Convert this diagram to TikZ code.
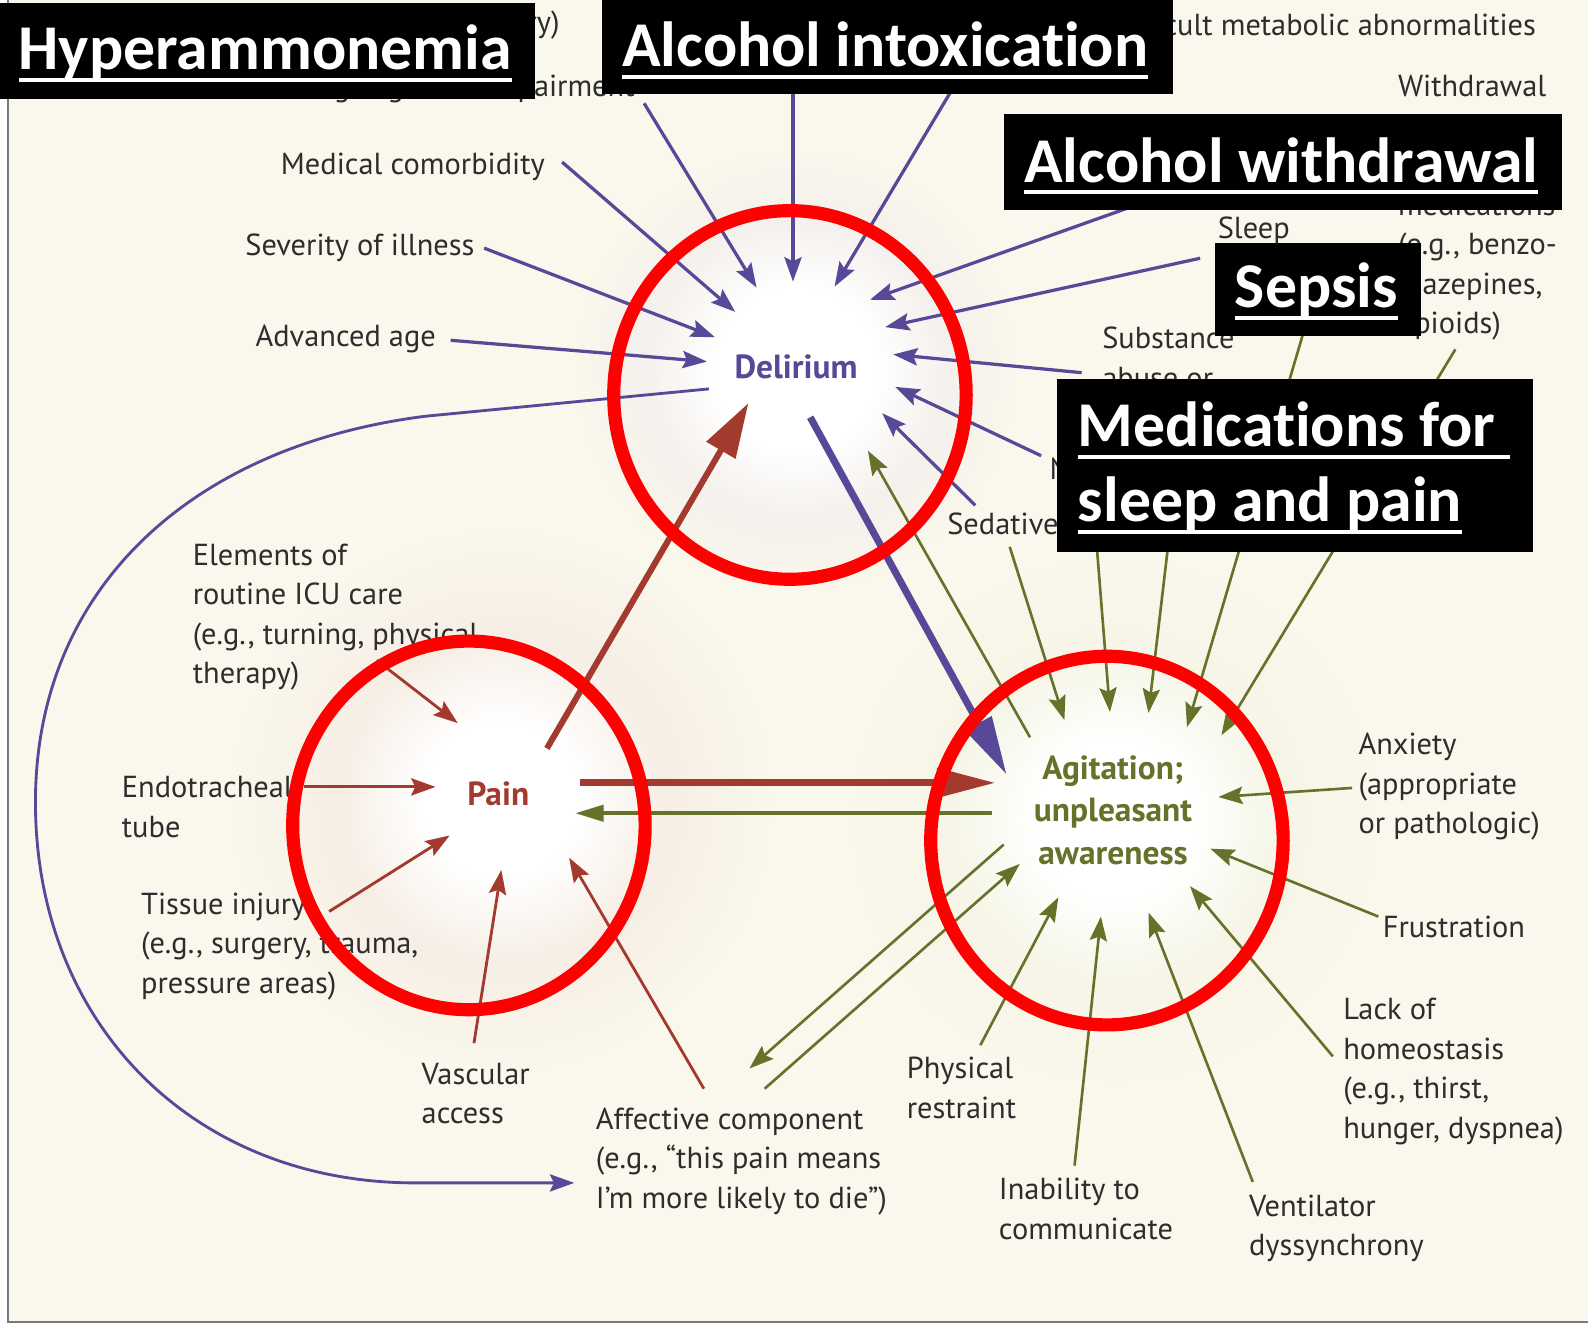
\documentclass[tikz,border=0pt]{standalone}
\usepackage{fontspec}
\setmainfont{PT Sans}
\newfontfamily\boxfont{Carlito}[Ligatures=NoCommon]
\usetikzlibrary{arrows.meta}

\definecolor{bgcream}{RGB}{250,247,236}
\definecolor{framegray}{RGB}{120,120,128}
\definecolor{dpurple}{RGB}{88,72,152}
\definecolor{pbrown}{RGB}{163,58,46}
\definecolor{aolive}{RGB}{102,114,42}
\definecolor{labelgray}{RGB}{45,45,45}
\definecolor{markred}{RGB}{255,0,0}
\definecolor{paintint}{RGB}{246,238,229}
\definecolor{agitint}{RGB}{246,245,231}
\definecolor{deltint}{RGB}{244,240,236}

% soft glows: white core, faint tint, fading into the page colour at the rim
\pgfdeclareradialshading{delglow}{\pgfpoint{0bp}{0bp}}{color(0bp)=(white); color(9bp)=(white); color(17bp)=(deltint); color(25bp)=(bgcream); color(50bp)=(bgcream)}
\pgfdeclareradialshading{painglow}{\pgfpoint{0bp}{0bp}}{color(0bp)=(white); color(7bp)=(white); color(15bp)=(paintint); color(25bp)=(bgcream); color(50bp)=(bgcream)}
\pgfdeclareradialshading{agiglow}{\pgfpoint{0bp}{0bp}}{color(0bp)=(white); color(7bp)=(white); color(15bp)=(agitint); color(25bp)=(bgcream); color(50bp)=(bgcream)}

% white bar under a line of overlay text
\newcommand\ulbar[1]{\setbox0=\hbox{#1}\rlap{\rule[-6pt]{\wd0}{2pt}}\box0}

\begin{document}
\begin{tikzpicture}[x=0.5pt,y=-0.5pt,
  lbl/.style={font=\fontsize{15}{19.5}\selectfont, text=labelgray, inner sep=0pt, align=left, anchor=west, yshift=-1.5pt},
  hub/.style={font=\bfseries\fontsize{16.5}{21}\selectfont, inner sep=0pt, align=center},
  thinhead/.style={-{Stealth[length=12pt,width=8.5pt,inset=2pt]}},
  parr/.style={dpurple, line width=1.6pt, thinhead},
  rarr/.style={pbrown, line width=1.4pt, thinhead},
  garr/.style={aolive, line width=1.3pt, thinhead},
  ring/.style={draw=markred, line width=6.5pt},
  ovl/.style={text=white, font=\boxfont\bfseries\fontsize{31.5}{37}\selectfont, inner sep=0pt, anchor=base west}]

\useasboundingbox (0,0) rectangle (1568,1309);
\fill[white] (0,0) rectangle (1568,1309);
\fill[bgcream] (8,0) rectangle (1568,1305);
\draw[framegray, line width=1pt] (8,0) -- (8,1305) -- (1568,1305);

% glows behind the three hubs
\shade[shading=delglow] (786,365) circle (110pt);
\shade[shading=painglow] (495,790) circle (135pt);
\shade[shading=agiglow] (1100,810) circle (135pt);

% hubs
\node[hub, text=dpurple] (del) at (786,362) {Delirium};
\node[hub, text=pbrown] (pain) at (492,784) {Pain};
\node[hub, text=aolive] (agi) at (1099,800) {Agitation;\\unpleasant\\awareness};

% factor labels
\node[lbl, anchor=east] (brain) at (553,22) {Brain injury (e.g., stroke, head injury)};
\node[lbl, anchor=east] (cog) at (627,85) {Preexisting cognitive impairment};
\node[lbl] (medcom) at (277,162) {Medical comorbidity};
\node[lbl] (sev) at (242,242) {Severity of illness};
\node[lbl] (age) at (252,332) {Advanced age};
\node[lbl, anchor=east] (occ) at (1517,22) {Occult metabolic abnormalities};
\node[lbl] (wd) at (1380,202) {Withdrawal\\from alcohol\\\strut\\medications\\(e.g., benzo-\\diazepines,\\opioids)};
\node[lbl] (sleep) at (1202,225) {Sleep};
\node[lbl] (subst) at (1088,350.5) {Substance\\abuse or};
\node[lbl] (narc) at (1036,460) {Narcotics};
\node[lbl] (sed) at (935,514) {Sedatives};

\node[lbl] (icu) at (190,606.5) {Elements of\\routine ICU care\\(e.g., turning, physical\\therapy)};
\node[lbl] (ett) at (120,794) {Endotracheal\\tube};
\node[lbl] (tissue) at (139,931.5) {Tissue injury\\(e.g., surgery, trauma,\\pressure areas)};
\node[lbl] (vasc) at (416,1077) {Vascular\\access};
\node[lbl] (aff) at (588,1143.5) {Affective component\\(e.g., “this pain means\\I’m more likely to die”)};
\node[lbl] (restr) at (895,1071) {Physical\\restraint};
\node[lbl] (comm) at (986,1190.5) {Inability to\\communicate};
\node[lbl] (vent) at (1233,1210) {Ventilator\\dyssynchrony};
\node[lbl] (homeo) at (1326,1055) {Lack of\\homeostasis\\(e.g., thirst,\\hunger, dyspnea)};
\node[lbl] (frus) at (1365,912) {Frustration};
\node[lbl] (anx) at (1341,774) {Anxiety\\(appropriate\\or pathologic)};

% connector end points: delirium factors
\coordinate (pa1s) at (636,102);   \coordinate (pa1t) at (747,284);
\coordinate (pa2s) at (783,60);    \coordinate (pa2t) at (783,278);
\coordinate (pa3s) at (960,55);    \coordinate (pa3t) at (824,283);
\coordinate (pa4s) at (555,160);   \coordinate (pa4t) at (726,308);
\coordinate (pa5s) at (478,245);   \coordinate (pa5t) at (706,333);
\coordinate (pa6s) at (445,336);   \coordinate (pa6t) at (698,357);
\coordinate (pa7s) at (1140,196);  \coordinate (pa7t) at (859,296);
\coordinate (pa8s) at (1185,255);  \coordinate (pa8t) at (874,323);
\coordinate (pa9s) at (1068,368);  \coordinate (pa9t) at (882,350);
\coordinate (pa10s) at (1028,450); \coordinate (pa10t) at (884,382);
\coordinate (pa11s) at (963,499);  \coordinate (pa11t) at (871,408);
\coordinate (loops) at (700,384);  \coordinate (loopt) at (567,1168);
% hub to hub
\coordinate (dagS) at (800,412);   \coordinate (dagT) at (994,765);
\coordinate (pdS) at (540,739);    \coordinate (pdT) at (739,398);
\coordinate (paS) at (573,773);    \coordinate (paT) at (983,773);
\coordinate (apS) at (979,803);    \coordinate (apT) at (568,803);
\coordinate (adS) at (1017,728);   \coordinate (adT) at (857,445);
% pain factors
\coordinate (ra1s) at (372,652);   \coordinate (ra1t) at (452,714);
\coordinate (ra2s) at (300,777);   \coordinate (ra2t) at (430,777);
\coordinate (ra3s) at (325,900);   \coordinate (ra3t) at (444,825);
\coordinate (ra4s) at (468,1030);  \coordinate (ra4t) at (495,859);
\coordinate (ra5s) at (695,1075);  \coordinate (ra5t) at (562,847);
% agitation factors
\coordinate (gaffS) at (991,834);  \coordinate (gaffT) at (740,1055);
\coordinate (gagiS) at (755,1075); \coordinate (gagiT) at (1007,853);
\coordinate (g1s) at (968,1032);   \coordinate (g1t) at (1045,886);
\coordinate (g2s) at (1061,1151);  \coordinate (g2t) at (1087,905);
\coordinate (g3s) at (1237,1167);  \coordinate (g3t) at (1134,901);
\coordinate (g4s) at (1316,1043);  \coordinate (g4t) at (1175,875);
\coordinate (g5s) at (1361,905);   \coordinate (g5t) at (1195,838);
\coordinate (g6s) at (1335,778);   \coordinate (g6t) at (1203,787);
\coordinate (m1s) at (997,540);    \coordinate (m1t) at (1051,711);
\coordinate (m2s) at (1075,440);   \coordinate (m2t) at (1096,703);
\coordinate (m3s) at (1165,440);   \coordinate (m3t) at (1134,704);
\coordinate (m4s) at (1288,325);   \coordinate (m4t) at (1172,718);
\coordinate (m5s) at (1437,345);   \coordinate (m5t) at (1206,726);

% delirium factors
\foreach \i in {1,...,11} \draw[parr] (pa\i s) -- (pa\i t);
\draw[dpurple, line width=1.4pt, thinhead] (loops) -- (420,411)
  .. controls (190,440) and (36,580) .. (35,790)
  .. controls (34,1010) and (190,1168) .. (410,1168) -- (loopt);

% hub to hub
\draw[dpurple, line width=3.5pt, -{Triangle[length=29pt,width=14pt]}] (dagS) -- (dagT);
\draw[pbrown, line width=3pt, -{Triangle[length=27pt,width=16pt]}] (pdS) -- (pdT);
\draw[pbrown, line width=3.5pt, -{Triangle[length=29pt,width=14pt]}] (paS) -- (paT);
\draw[aolive, line width=1.8pt, -{Triangle[length=14pt,width=8pt]}] (apS) -- (apT);
\draw[garr] (adS) -- (adT);

% pain factors
\foreach \i in {1,...,5} \draw[rarr] (ra\i s) -- (ra\i t);

% agitation factors
\draw[garr] (gaffS) -- (gaffT);
\draw[garr] (gagiS) -- (gagiT);
\foreach \i in {1,...,6} \draw[garr] (g\i s) -- (g\i t);
\foreach \i in {1,...,5} \draw[garr] (m\i s) -- (m\i t);

% red rings
\draw[ring] (780,390) ellipse [x radius=87pt, y radius=91pt];
\draw[ring] (463,815) ellipse [x radius=87pt, y radius=91pt];
\draw[ring] (1093,830) ellipse [x radius=87pt, y radius=91pt];

% black overlay boxes
\fill[black] (0,3) rectangle (528,98);
\fill[black] (594,0) rectangle (1158,93);
\fill[black] (991,113) rectangle (1542,207);
\fill[black] (1200,240) rectangle (1403,332);
\fill[black] (1044,374) rectangle (1514,545);

\node[ovl] (hyper) at (18,69) {\ulbar{Hyperammonemia}};
\node[ovl] (intox) at (614,66) {\ulbar{Alcohol intoxication}};
\node[ovl] (awd) at (1011,180) {\ulbar{Alcohol withdrawal}};
\node[ovl] (sepsis) at (1219,304) {\ulbar{Sepsis}};
\node[ovl] (meds) at (1064,441) {\vtop{\baselineskip=37pt\hbox{\ulbar{Medications for\ }}\hbox{\ulbar{sleep and pain}}}};
\end{tikzpicture}
\end{document}
